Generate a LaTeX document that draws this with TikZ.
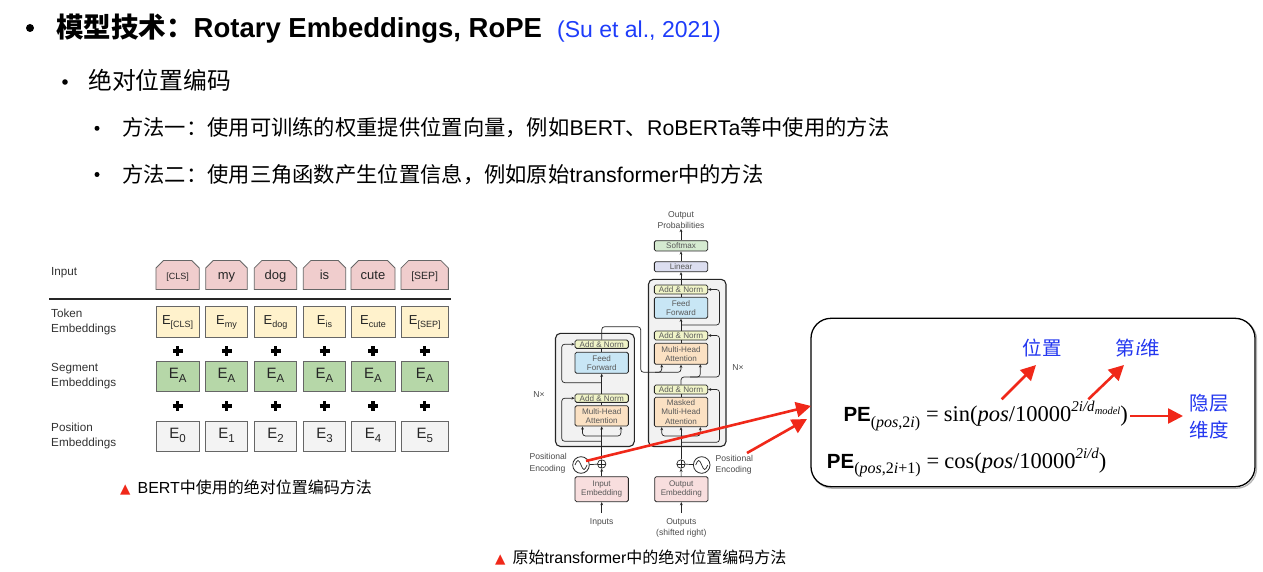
\documentclass[tikz,border=0pt]{standalone}
\usepackage{fontspec}
\setmainfont{Liberation Sans}
\newfontfamily\cjk{Noto Sans CJK SC}
\newfontfamily\tms{Liberation Serif}
\newfontfamily\dejavu{DejaVu Sans}
\usetikzlibrary{arrows.meta,shapes.misc,calc}

\newcommand\zh[1]{{\cjk #1}}
\newcommand\fsz[1]{\fontsize{#1}{#1}\selectfont}

\definecolor{linkblue}{RGB}{30,60,250}
\definecolor{zhblue}{RGB}{35,55,240}
\definecolor{redmark}{RGB}{240,40,25}
\definecolor{inpink}{RGB}{240,205,205}
\definecolor{tokyel}{RGB}{255,242,204}
\definecolor{seggrn}{RGB}{182,215,168}
\definecolor{posgry}{RGB}{243,243,243}
\definecolor{anfill}{RGB}{240,244,200}
\definecolor{fffill}{RGB}{200,230,245}
\definecolor{mhafill}{RGB}{251,225,195}
\definecolor{embfill}{RGB}{248,222,222}
\definecolor{smfill}{RGB}{213,234,208}
\definecolor{linfill}{RGB}{220,222,240}
\definecolor{stackfill}{RGB}{242,242,242}

\tikzset{
  bul/.style={circle, fill=black, inner sep=0pt},
  line1/.style={anchor=base west, inner sep=0pt},
  blabel/.style={anchor=west, inner sep=0pt, align=left, text=black!80, font=\fontsize{11.7}{15}\selectfont},
  bbox/.style={draw=black!60, line width=0.8pt, minimum height=30.6pt, inner sep=0pt, text=black!85,
    text height=0.72em, text depth=0.2em},
  inbox/.style={bbox, chamfered rectangle, chamfered rectangle xsep=4pt,
    chamfered rectangle corners={north west,north east}, fill=inpink, minimum height=29pt,
    text height=1.0em, text depth=0.2em},
  tokbox/.style={bbox, fill=tokyel, font=\fsz{13}},
  segbox/.style={bbox, fill=seggrn, font=\fsz{15}},
  posbox/.style={bbox, fill=posgry, font=\fsz{15}},
  tbox/.style={draw=black!85, line width=0.8pt, rounded corners=1.5pt, minimum width=53.3pt,
    inner sep=0pt, align=center, text=black!65, font=\fontsize{8.1}{9.3}\selectfont},
  stack/.style={draw=black!85, line width=1.1pt, rounded corners=5pt, fill=stackfill},
  tlabel/.style={inner sep=0pt, align=center, text=black!70, font=\fontsize{8.6}{11.3}\selectfont},
  tarr/.style={line width=0.7pt, draw=black!85, -{Stealth[length=3.2pt,width=2.8pt]}, rounded corners=3pt},
  tline/.style={line width=0.7pt, draw=black!85, rounded corners=3pt},
  addsym/.style={circle, draw=black!85, line width=0.7pt, minimum size=8.4pt, inner sep=0pt,
    path picture={\draw[line width=0.6pt] (path picture bounding box.north) -- (path picture bounding box.south)
      (path picture bounding box.west) -- (path picture bounding box.east);}},
  pesym/.style={circle, draw=black!85, line width=0.8pt, minimum size=16.6pt, inner sep=0pt,
    path picture={\draw[line width=0.7pt] ($(path picture bounding box.center)+(-6,0)$)
      sin ++(3,-4.5) cos ++(3,4.5) sin ++(3,4.5) cos ++(3,-4.5);}},
  redarr/.style={draw=redmark, line width=2.6pt, -{Triangle[length=15pt,width=15pt]}},
  zhlab/.style={inner sep=0pt, text=zhblue, align=center, font=\cjk\fontsize{19.5}{27}\selectfont},
  plussign/.style={line width=3.2pt, draw=black}
}

\begin{document}
\begin{tikzpicture}[x=1pt,y=-1pt]
\useasboundingbox[fill=white] (0,0) rectangle (1263,572);

% ---------- bullet list ----------
\node[bul, minimum size=8pt] (b0) at (30,28) {};
\node[line1, font=\fsz{27.5}\bfseries] (h1) at (56,38) {\zh{\bfseries 模型技术：}Rotary Embeddings, RoPE};
\node[line1, font=\fsz{23}, text=linkblue] (h1cite) at (557,38) {(Su et al., 2021)};

\node[bul, minimum size=5.6pt] (b1) at (65,82) {};
\node[line1, font=\fsz{23.8}] (h2) at (88,90) {\zh{绝对位置编码}};

\node[bul, minimum size=5pt] (b2) at (97,128.3) {};
\node[line1, font=\fsz{21.3}] (h3) at (122,136) {\zh{方法一：使用可训练的权重提供位置向量，例如}BERT\zh{、}RoBERTa\zh{等中使用的方法}};
\node[bul, minimum size=5pt] (b3) at (97,174.5) {};
\node[line1, font=\fsz{21.3}] (h4) at (122,182.5) {\zh{方法二：使用三角函数产生位置信息，例如原始}transformer\zh{中的方法}};

% ---------- BERT input representation ----------
\node[blabel] (lin) at (51,272.7) {Input};
\node[blabel] (ltok) at (51,321.5) {Token\\Embeddings};
\node[blabel] (lseg) at (51,376.2) {Segment\\Embeddings};
\node[blabel] (lpos) at (51,436.2) {Position\\Embeddings};
\draw[line width=2pt, draw=black!85] (49,299) -- (451,299);

\foreach \i/\cx/\w/\fs/\word/\sub in {
  0/177.6/43.3/9/{[CLS]}/{[CLS]},
  1/226.5/41.6/13/my/my,
  2/275.5/42.4/13/dog/dog,
  3/324.5/42.4/13/is/is,
  4/373/44/13/cute/cute,
  5/424.7/47.3/10.5/{[SEP]}/{[SEP]}}{
  \node[inbox, minimum width=\w pt, font=\fsz{\fs}] (in\i) at (\cx,275) {\word};
  \node[tokbox, minimum width=\w pt] (tok\i) at (\cx,322) {E\raisebox{-3.2pt}{\fsz{9}\sub}};
  \node[segbox, minimum width=\w pt] (seg\i) at (\cx,376.2) {E\raisebox{-3.6pt}{\fsz{11.5}A}};
  \node[posbox, minimum width=\w pt] (pos\i) at (\cx,436.2) {E\raisebox{-3.6pt}{\fsz{11.5}\i}};
  \draw[plussign] (\cx-5,351) -- (\cx+5,351) (\cx,346) -- (\cx,356);
  \draw[plussign] (\cx-5,406) -- (\cx+5,406) (\cx,401) -- (\cx,411);
}
\node[anchor=west, inner sep=0pt, font=\fsz{16}] (cap1) at (120,487.5)
  {{\dejavu\fsz{13.5}\color{redmark}▲}\hspace{7pt}BERT\zh{中使用的绝对位置编码方法}};

% ---------- Transformer ----------
% stacks
\draw[stack] (555.5,333.3) rectangle (634.3,446.5);
\draw[stack] (648.5,279.3) rectangle (726,446.5);

% encoder blocks
\node[tbox, fill=anfill, minimum height=8.3pt] (encAN2) at (601.7,344.2) {Add \& Norm};
\node[tbox, fill=fffill, minimum height=21pt] (encFF) at (601.7,362.8) {Feed\\Forward};
\node[tbox, fill=anfill, minimum height=8.3pt] (encAN1) at (601.7,398.2) {Add \& Norm};
\node[tbox, fill=mhafill, minimum height=20.3pt] (encMHA) at (601.7,415.9) {Multi-Head\\Attention};
\node[tbox, fill=embfill, minimum height=25pt] (inEmb) at (601.7,489.2) {Input\\Embedding};
\node[addsym] (encAdd) at (601.7,464) {};
\node[pesym] (encPE) at (581,465) {};

% decoder blocks
\node[tbox, fill=smfill, minimum height=10.3pt] (softmax) at (681,245.8) {Softmax};
\node[tbox, fill=linfill, minimum height=10pt] (linear) at (681,266.7) {Linear};
\node[tbox, fill=anfill, minimum height=9pt] (decAN3) at (681,289.5) {Add \& Norm};
\node[tbox, fill=fffill, minimum height=21pt] (decFF) at (681,307.8) {Feed\\Forward};
\node[tbox, fill=anfill, minimum height=9pt] (decAN2) at (681,335.5) {Add \& Norm};
\node[tbox, fill=mhafill, minimum height=21pt] (decMHA) at (681,353.8) {Multi-Head\\Attention};
\node[tbox, fill=anfill, minimum height=9pt] (decAN1) at (681,389.5) {Add \& Norm};
\node[tbox, fill=mhafill, minimum height=29.4pt] (decMMHA) at (681,412) {Masked\\Multi-Head\\Attention};
\node[tbox, fill=embfill, minimum height=25pt] (outEmb) at (681.3,489.2) {Output\\Embedding};
\node[addsym] (decAdd) at (681,464) {};
\node[pesym] (decPE) at (701.7,465) {};

% labels
\node[tlabel] (outProb) at (681,220) {Output\\Probabilities};
\node[tlabel] (encN) at (539,395) {N×};
\node[tlabel] (decN) at (738,368) {N×};
\node[tlabel, anchor=east, align=left] (encPElab) at (567,463.3) {Positional\\Encoding};
\node[tlabel, anchor=west, align=left] (decPElab) at (715.5,464.5) {Positional\\Encoding};
\node[tlabel] (inLab) at (601.7,522.3) {Inputs};
\node[tlabel] (outLab) at (681.3,528) {Outputs\\(shifted right)};
\coordinate (inSrc) at (601.7,513);
\coordinate (outSrc) at (681.3,513);

% encoder wiring
\draw[tarr] (inSrc) -- (inEmb);
\draw[tarr] (inEmb) -- (encAdd);
\draw[tline] (encPE) -- (encAdd);
\draw[tarr] (encAdd) -- (encMHA);
\draw[tarr] (601.7,436) -| ($(encMHA.south)+(-19.2,0)$);
\draw[tarr] (601.7,436) -| ($(encMHA.south)+(19.2,0)$);
\draw[tarr] (601.7,441.3) -- (561.7,441.3) -- (561.7,398.2) -- (encAN1.west);
\draw[tline] (encMHA) -- (encAN1);
\draw[tarr] (encAN1) -- (encFF);
\draw[tarr] (601.7,382.7) -- (561.7,382.7) -- (561.7,344.2) -- (encAN2.west);
\draw[tline] (encFF) -- (encAN2);
\draw[tarr] (encAN2.north) -- (601.7,326.7) -- (640.7,326.7) -- (640.7,372.3) -- (661.7,372.3) -- (661.7,364.3);
\draw[tarr] (655,372.3) -- (681,372.3) -- (decMHA.south);

% decoder wiring
\draw[tarr] (outSrc) -- (outEmb);
\draw[tarr] (outEmb) -- (decAdd);
\draw[tline] (decPE) -- (decAdd);
\draw[tarr] (decAdd) -- (decMMHA);
\draw[tarr] (681,436) -| ($(decMMHA.south)+(-19.3,0)$);
\draw[tarr] (681,436) -| ($(decMMHA.south)+(19.3,0)$);
\draw[tarr] (681,442.3) -- (719.5,442.3) -- (719.5,389.5) -- (decAN1.east);
\draw[tline] (decMMHA) -- (decAN1);
\draw[tarr] (decAN1.north) -- (681,377) -- (700.3,377) -- (700.3,364.3);
\draw[tarr] (690,377) -- (719.5,377) -- (719.5,335.5) -- (decAN2.east);
\draw[tline] (decMHA) -- (decAN2);
\draw[tarr] (decAN2) -- (decFF);
\draw[tarr] (681,325) -- (719.5,325) -- (719.5,289.5) -- (decAN3.east);
\draw[tline] (decFF) -- (decAN3);
\draw[tarr] (decAN3) -- (linear);
\draw[tarr] (linear) -- (softmax);
\draw[tarr] (softmax) -- (outProb);

\node[anchor=west, inner sep=0pt, font=\fsz{16}] (cap2) at (495,557.5)
  {{\dejavu\fsz{13.5}\color{redmark}▲}\hspace{7pt}\zh{原始}transformer\zh{中的绝对位置编码方法}};

% ---------- sinusoidal formula panel ----------
\draw[line width=1.3pt, draw=black!30, rounded corners=20pt] (812.5,319.8) rectangle (1256.5,488.2);
\draw[line width=1.3pt, fill=white, rounded corners=20pt] (811,318.3) rectangle (1255,486.7);
\node[line1] (pe1) at (843.3,421.7) {{\fsz{20.5}\bfseries PE}\raisebox{-5.5pt}{\tms\fsz{16}(\textit{pos},2\textit{i})}{\tms\fsz{22.5}\hspace{6pt}=\hspace{5pt}sin(\textit{pos}/10000\raisebox{10pt}{\fsz{15}\textit{2i/d}\raisebox{-3pt}{\fsz{10.5}\textit{model}}})}};
\node[line1] (pe2) at (826.7,468.3) {{\fsz{20.5}\bfseries PE}\raisebox{-5.5pt}{\tms\fsz{16}(\textit{pos},2\textit{i}+1)}{\tms\fsz{22.5}\hspace{6pt}=\hspace{5pt}cos(\textit{pos}/10000\raisebox{10pt}{\fsz{15}\textit{2i/d}})}};

\node[zhlab] (wpos) at (1042,348.3) {位置};
\node[zhlab] (wdim) at (1138,348.3) {第{\tms\itshape i}维};
\node[zhlab] (whid) at (1209,416.7) {隐层\\维度};

\coordinate (pPos) at (1001.7,399.3);
\coordinate (pDim) at (1088.3,399.3);
\coordinate (pHid) at (1130,416);
\draw[redarr] (pPos) -- (1036,365);
\draw[redarr] (pDim) -- (1124,365);
\draw[redarr] (pHid) -- (1183,416);

% red pointers from the transformer to the formula
\coordinate (pEncPE) at (586,461);
\coordinate (pDecPE) at (747,453);
\draw[redarr] (pEncPE) -- (811,406);
\draw[redarr] (pDecPE) -- (807,419);
\end{tikzpicture}
\end{document}
